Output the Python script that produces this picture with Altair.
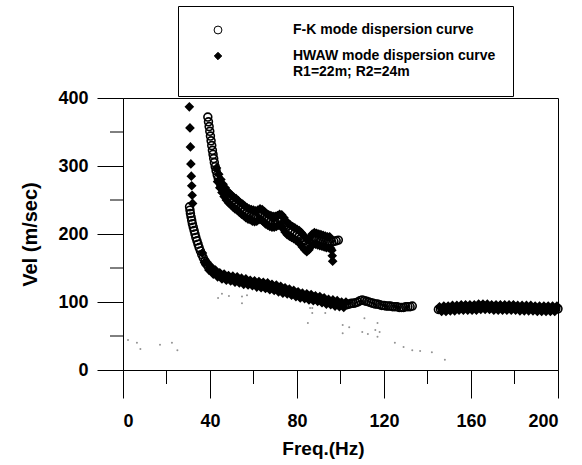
import altair as alt
import pandas as pd

# ---------------- data ----------------
# F-K mode dispersion curve (open circles): (freq Hz, velocity m/s)
fk_upper = [(39.0, 372), (39.3, 365), (39.6, 358), (39.9, 351), (40.2, 344), (40.5, 337), (40.8, 330),
            (41.1, 323), (41.4, 317), (41.7, 311), (42.0, 305), (42.4, 299), (42.8, 293), (43.3, 287),
            (43.8, 282), (44.4, 277), (45.0, 272), (45.7, 267), (46.4, 263), (47.2, 259), (48.0, 255),
            (49.0, 252), (50.0, 249), (51.0, 246), (52.0, 244), (53.0, 241), (54.0, 238), (55.0, 236),
            (56.0, 233), (57.0, 231), (58.0, 229), (59.0, 228), (60.0, 227), (61.0, 226), (62.0, 227),
            (63.0, 229), (64.0, 228), (65.0, 225), (66.0, 222), (67.0, 220), (68.0, 219), (69.0, 218),
            (70.0, 218), (71.0, 219), (72.0, 221), (73.0, 220), (74.0, 216), (75.0, 211), (76.0, 207),
            (77.0, 205), (78.0, 203), (79.0, 201), (80.0, 199), (81.0, 197), (82.0, 194), (83.0, 190),
            (84.0, 186), (85.0, 183), (86.0, 187), (87.0, 192), (88.0, 194), (89.0, 193), (90.0, 192),
            (91.0, 191), (92.0, 190), (93.0, 189), (94.0, 188), (95.0, 188), (96.0, 188), (97.0, 189),
            (98.0, 190), (99.0, 191)]

fk_lower = [(30.6, 240), (30.8, 235), (31.0, 230), (31.3, 225), (31.6, 220), (31.9, 215), (32.3, 210),
            (32.7, 205), (33.1, 200), (33.5, 195), (34.0, 190), (34.5, 185), (35.0, 180), (35.6, 175),
            (36.2, 170), (36.9, 165), (37.7, 160), (38, 157), (39, 153), (40, 150), (41, 147),
            (42, 144), (43, 142), (44, 140), (45, 139), (46, 137), (47, 136), (48, 136), (49, 135),
            (50, 134), (51, 134), (52, 133), (53, 132), (54, 132), (55, 131), (56, 130), (57, 130),
            (58, 129), (59, 128), (60, 128), (61, 127), (62, 126), (63, 126), (64, 125), (65, 124),
            (66, 124), (67, 123), (68, 122), (69, 122), (70, 121), (71, 120), (72, 119), (73, 118),
            (74, 117), (75, 117), (76, 116), (77, 115), (78, 114), (79, 113), (80, 112), (81, 111),
            (82, 110), (83, 109), (84, 109), (85, 108), (86, 107), (87, 107), (88, 106), (89, 105),
            (90, 105), (91, 104), (92, 103), (93, 102), (94, 101), (95, 100), (96, 100), (97, 99),
            (98, 98), (99, 98), (100, 97), (101, 96), (102, 96), (103, 96), (104, 97), (105, 98),
            (106, 98), (107, 99), (108, 100), (109, 102), (110, 103), (111, 102), (112, 101),
            (113, 100), (114, 99), (115, 98), (116, 97), (117, 97), (118, 96), (119, 95), (120, 95),
            (121, 94), (122, 94), (123, 94), (124, 93), (125, 93), (126, 93), (127, 92), (128, 92),
            (129, 92), (130, 93), (131, 93), (132, 93), (133, 94)]

fk_high = [(145, 89), (146, 89), (147, 90), (148, 90), (149, 90), (150, 90), (151, 91), (152, 91),
           (153, 91), (154, 91), (155, 91), (156, 92), (157, 92), (158, 92), (159, 92), (160, 92),
           (161, 92), (162, 92), (163, 92), (164, 93), (165, 93), (166, 93), (167, 93), (168, 93),
           (169, 93), (170, 92), (171, 92), (172, 92), (173, 92), (174, 92), (175, 92), (176, 92),
           (177, 92), (178, 92), (179, 92), (180, 92), (181, 92), (182, 91), (183, 91), (184, 91),
           (185, 91), (186, 91), (187, 91), (188, 91), (189, 91), (190, 90), (191, 90), (192, 90),
           (193, 90), (194, 90), (195, 90), (196, 90), (197, 90), (198, 90), (199, 90), (200, 90)]

# HWAW mode dispersion curve (filled diamonds)
hw_column = [(30.5, 387), (30.8, 356), (31.0, 328), (31.2, 303), (31.4, 285), (31.6, 271),
             (31.8, 257), (32.0, 245)]

hw_upper = [(43.0, 297), (43.5, 277), (44.0, 288), (44.5, 268), (45.0, 280), (45.5, 261), (46.0, 273),
            (46.5, 255), (47.0, 268), (47.5, 250), (48.0, 263), (48.5, 246), (49.0, 260), (49.5, 243),
            (50.0, 257), (50.5, 240), (51.0, 254), (51.5, 237), (52.0, 252), (52.5, 235), (53.0, 249),
            (53.5, 232), (54.0, 246), (54.5, 229), (55.0, 244), (55.5, 227), (56.0, 241), (56.5, 224),
            (57.0, 239), (57.5, 222), (58.0, 237), (58.5, 221), (59.0, 236), (59.5, 219), (60.0, 235),
            (60.5, 218), (61.0, 234), (61.5, 219), (62.0, 235), (62.5, 221), (63.0, 237), (63.5, 221),
            (64.0, 236), (64.5, 218), (65.0, 233), (65.5, 215), (66.0, 230), (66.5, 213), (67.0, 228),
            (67.5, 211), (68.0, 227), (68.5, 210), (69.0, 226), (69.5, 210), (70.0, 226), (70.5, 211),
            (71.0, 227), (71.5, 213), (72.0, 229), (72.5, 213), (73.0, 228), (73.5, 208), (74.0, 224),
            (74.5, 203), (75.0, 219), (75.5, 199), (76.0, 215), (76.5, 197), (77.0, 213), (77.5, 195),
            (78.0, 211), (78.5, 193), (79.0, 209), (79.5, 191), (80.0, 207), (80.5, 189), (81.0, 205),
            (81.5, 185), (82.0, 202), (82.5, 181), (83.0, 198), (83.5, 177), (84.0, 194), (84.5, 174),
            (85.0, 191), (85.5, 177), (86.0, 195), (86.5, 182), (87.0, 200), (87.5, 185), (88.0, 202),
            (88.5, 185), (89.0, 201), (89.5, 184), (90.0, 200), (90.5, 183), (91.0, 199), (91.5, 182),
            (92.0, 198), (92.5, 181), (93.0, 197), (93.5, 180), (94.0, 196), (94.5, 180), (95.0, 196),
            (95.5, 179), (96.0, 176), (96.2, 168), (96.4, 160)]

hw_lower = [(36.5, 172), (37.5, 158), (38.5, 159), (39.5, 147), (40.5, 152), (41.5, 141), (42.5, 147),
            (43.5, 137), (44.5, 143), (45.5, 134), (46.5, 141), (47.5, 132), (48.5, 139), (49.5, 131),
            (50.5, 138), (51.5, 129), (52.5, 137), (53.5, 128), (54.5, 135), (55.5, 126), (56.5, 134),
            (57.5, 125), (58.5, 132), (59.5, 124), (60.5, 131), (61.5, 122), (62.5, 130), (63.5, 121),
            (64.5, 129), (65.5, 120), (66.5, 128), (67.5, 118), (68.5, 126), (69.5, 117), (70.5, 125),
            (71.5, 115), (72.5, 123), (73.5, 113), (74.5, 121), (75.5, 112), (76.5, 119), (77.5, 110),
            (78.5, 117), (79.5, 108), (80.5, 115), (81.5, 106), (82.5, 113), (83.5, 105), (84.5, 112),
            (85.5, 103), (86.5, 111), (87.5, 102), (88.5, 109), (89.5, 101), (90.5, 108), (91.5, 99),
            (92.5, 106), (93.5, 97), (94.5, 104), (95.5, 96), (96.5, 103), (97.5, 94), (98.5, 102),
            (99.5, 93), (100.5, 100), (101.5, 92), (102.5, 100)]

hw_high = [(145.5, 93), (146.5, 86), (147.5, 94), (148.5, 86), (149.5, 94), (150.5, 87), (151.5, 95),
           (152.5, 87), (153.5, 95), (154.5, 88), (155.5, 96), (156.5, 88), (157.5, 96), (158.5, 88),
           (159.5, 96), (160.5, 88), (161.5, 96), (162.5, 88), (163.5, 97), (164.5, 89), (165.5, 97),
           (166.5, 89), (167.5, 97), (168.5, 89), (169.5, 96), (170.5, 88), (171.5, 96), (172.5, 88),
           (173.5, 96), (174.5, 88), (175.5, 96), (176.5, 88), (177.5, 96), (178.5, 88), (179.5, 96),
           (180.5, 88), (181.5, 95), (182.5, 87), (183.5, 95), (184.5, 87), (185.5, 95), (186.5, 87),
           (187.5, 95), (188.5, 87), (189.5, 94), (190.5, 86), (191.5, 94), (192.5, 86), (193.5, 94),
           (194.5, 86), (195.5, 94), (196.5, 86), (197.5, 94), (198.5, 86), (199.5, 94)]

# faint scattered dots
dot_points = [(2.3, 44), (6.4, 40), (8.0, 31), (17.0, 37), (22.5, 40), (25.0, 29), (43.7, 106),
              (45.5, 112), (48.7, 109), (54.7, 108), (54.7, 98), (57.0, 110), (85.0, 69), (86.0, 91),
              (87.0, 91), (87.0, 84), (93.0, 84), (101.0, 66), (101.0, 54), (104.0, 63), (110.0, 56),
              (111.0, 76), (112.6, 53), (116.0, 59), (117.0, 49), (117.0, 69), (118.0, 56),
              (125.0, 40), (129.0, 34), (133.0, 29), (136.6, 28), (142.0, 26), (148.0, 15)]

series_names = ["F-K", "HWAW"]
x_ticks = [0, 40, 80, 120, 160, 200]
x_minor = [20, 60, 100, 140, 180]
y_ticks = [0, 100, 200, 300, 400]
y_minor = [50, 150, 250, 350]

# ---------------- tables ----------------
fk_all = fk_upper + fk_lower + fk_high
hw_all = hw_column + hw_upper + hw_lower + hw_high
rows = [(f, v, "F-K") for f, v in fk_all] + [(f, v, "HWAW") for f, v in hw_all]
pts = pd.DataFrame(rows, columns=["freq", "vel", "series"])
pts["order"] = range(len(pts))
dots = pd.DataFrame(dot_points, columns=["freq", "vel"])
xminor_df = pd.DataFrame({"v": x_minor})
yminor_df = pd.DataFrame({"v": y_minor})

W, H = 435, 272
FONT = "Liberation Sans"

xscale = alt.Scale(domain=[0, 200], nice=False, zero=False)
yscale = alt.Scale(domain=[0, 400], nice=False, zero=False)

legend = alt.Legend(
    title=None, orient="none", legendX=55, legendY=-92,
    strokeColor="black", fillColor="white", padding=17,
    symbolOffset=16, labelOffset=68, rowPadding=12,
    labelFont=FONT, labelFontSize=14, labelFontWeight="bold", labelColor="black",
    labelLimit=400, symbolStrokeColor="black", symbolStrokeWidth=1,
    labelExpr="datum.value == 'F-K' ? 'F-K mode dispersion curve' : "
              "['HWAW mode dispersion curve', 'R1=22m; R2=24m']",
)

points = alt.Chart(pts).mark_point(strokeWidth=1.6, opacity=1).encode(
    x=alt.X("freq:Q", scale=xscale,
            axis=alt.Axis(values=x_ticks, tickSize=28, labelPadding=14, title="Freq.(Hz)",
                          titleX=200, titleY=78, titleBaseline="middle", titleFontSize=19)),
    y=alt.Y("vel:Q", scale=yscale,
            axis=alt.Axis(values=y_ticks, tickSize=26, labelPadding=9, title="Vel (m/sec)",
                          titleX=-93, titleY=136, titleAngle=270, titleAlign="center",
                          titleBaseline="middle", titleFontSize=20)),
    shape=alt.Shape("series:N", scale=alt.Scale(domain=series_names, range=["circle", "diamond"]),
                    legend=legend),
    fill=alt.Fill("series:N", scale=alt.Scale(domain=series_names, range=["transparent", "black"]),
                  legend=legend),
    stroke=alt.Stroke("series:N", scale=alt.Scale(domain=series_names, range=["black", "black"]),
                      legend=legend),
    size=alt.Size("series:N", scale=alt.Scale(domain=series_names, range=[62, 55]), legend=legend),
    order="order:Q",
)

faint = alt.Chart(dots).mark_circle(color="#777777", size=4, opacity=0.8).encode(
    x=alt.X("freq:Q", scale=xscale), y=alt.Y("vel:Q", scale=yscale))

xminor = alt.Chart(xminor_df).mark_rule(color="black", strokeWidth=1).encode(
    x=alt.X("v:Q", scale=xscale), y=alt.value(H), y2=alt.value(H + 14))
yminor = alt.Chart(yminor_df).mark_rule(color="black", strokeWidth=1).encode(
    y=alt.Y("v:Q", scale=yscale), x=alt.value(0), x2=alt.value(-13))

chart = alt.layer(faint, points, xminor, yminor).properties(
    width=W, height=H, background="white",
    autosize=alt.AutoSizeParams(type="none"),
    padding={"left": 123, "top": 98, "right": 24, "bottom": 95},
).configure_view(
    stroke="black", strokeWidth=1
).configure_axis(
    grid=False, domainColor="black", tickColor="black", domainWidth=1, tickWidth=1,
    labelFont=FONT, labelFontSize=18, labelFontWeight="bold", labelColor="black",
    titleFont=FONT, titleFontWeight="bold", titleColor="black",
)

chart.save("out.html", embed_options={"renderer": "svg", "actions": False})
